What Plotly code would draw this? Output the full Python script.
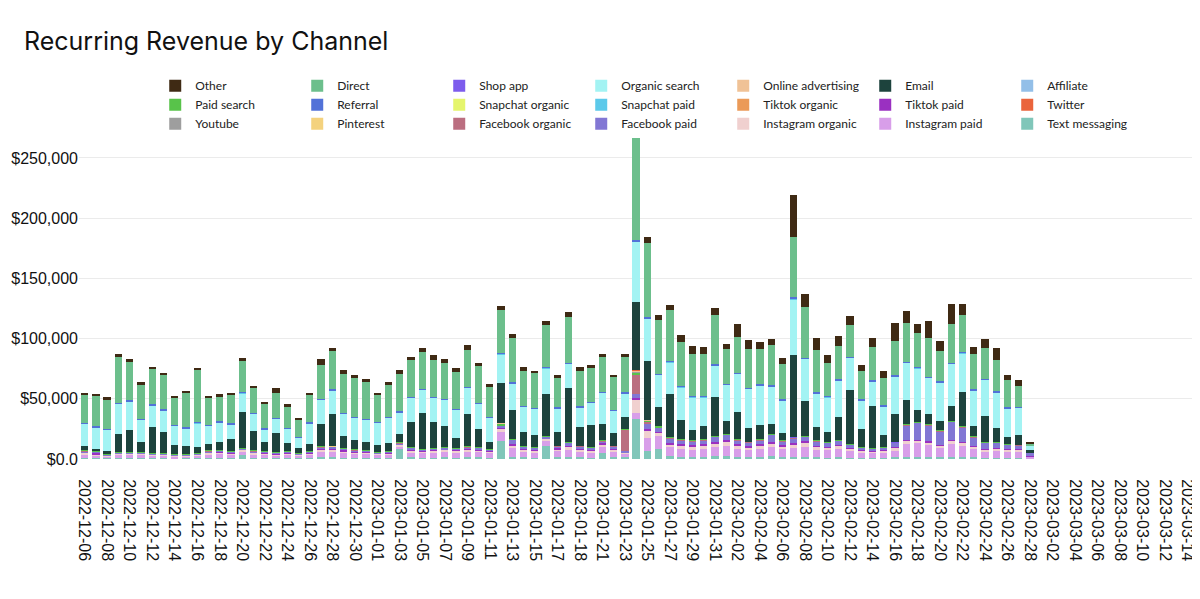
import pandas as pd
import plotly.graph_objects as go

# ---------------- data (values in $ thousands) ----------------
days = [d.strftime("%Y-%m-%d") for d in pd.date_range("2022-12-06", "2023-03-15", freq="D")]

tick_labels = [
    "2022-12-06", "2022-12-08", "2022-12-10", "2022-12-12", "2022-12-14", "2022-12-16",
    "2022-12-18", "2022-12-20", "2022-12-22", "2022-12-24", "2022-12-26", "2022-12-28",
    "2022-12-30", "2023-01-01", "2023-01-03", "2023-01-05", "2023-01-07", "2023-01-09",
    "2023-01-11", "2023-01-13", "2023-01-15", "2023-01-17", "2023-01-18", "2023-01-21",
    "2023-01-23", "2023-01-25", "2023-01-27", "2023-01-29", "2023-01-31", "2023-02-02",
    "2023-02-04", "2023-02-06", "2023-02-08", "2023-02-10", "2023-02-12", "2023-02-14",
    "2023-02-16", "2023-02-18", "2023-02-20", "2023-02-22", "2023-02-24", "2023-02-26",
    "2023-02-28", "2023-03-02", "2023-03-04", "2023-03-06", "2023-03-08", "2023-03-10",
    "2023-03-12", "2023-03-14",
]

other = [2.3, 1.9, 2.0, 2.2, 2.3, 2.2, 1.9, 2.2, 1.7, 1.7, 2.0, 1.6, 1.7, 2.0, 2.7, 1.9, 1.7, 3.8, 2.3, 1.4,
         2.2, 5.5, 2.5, 3.9, 2.8, 2.8, 1.7, 2.7, 2.8, 2.8, 3.3, 3.6, 2.8, 3.4, 4.1, 2.8, 2.2, 3.1, 3.3, 3.3,
         2.2, 3.6, 2.5, 4.2, 3.6, 2.5, 2.8, 2.0, 2.8, 0.0, 4.6, 4.2, 4.1, 6.1, 6.3, 5.2, 5.0, 3.6, 11.1, 7.5,
         5.5, 5.0, 5.5, 34.7, 10.5, 10.6, 6.1, 8.3, 6.9, 5.0, 7.5, 5.6, 14.9, 9.7, 7.5, 13.5, 8.0, 17.2, 9.1, 6.1,
         7.0, 9.7, 4.2, 5.0, 0.3]
direct = [22.7, 25.0, 24.4, 38.0, 31.6, 28.3, 29.2, 28.3, 21.9, 28.3, 42.9, 22.5, 20.5, 23.5, 25.8, 20.3, 19.9, 20.8, 17.1, 14.1,
          22.4, 27.8, 31.9, 31.9, 32.1, 30.2, 22.5, 26.1, 31.0, 30.3, 30.5, 30.9, 30.0, 30.5, 30.8, 30.5, 24.7, 35.8, 36.9, 28.6,
          28.8, 34.7, 24.4, 37.9, 28.9, 28.3, 28.9, 26.8, 29.1, 85.1, 61.4, 44.9, 42.2, 36.5, 35.2, 35.2, 41.3, 29.1, 29.7, 32.4,
          29.6, 33.0, 29.1, 49.7, 42.1, 34.6, 27.7, 27.5, 26.7, 23.3, 27.5, 23.0, 28.6, 32.1, 28.5, 32.5, 25.0, 31.8, 30.5, 29.1,
          25.7, 26.1, 22.2, 16.9, 2.0]
referral = [0.8, 0.8, 0.8, 0.8, 0.8, 0.8, 0.8, 0.8, 0.8, 0.8, 0.8, 0.8, 0.8, 0.8, 0.8, 0.8, 0.8, 0.8, 0.8, 0.8,
            0.8, 0.8, 0.8, 0.8, 0.8, 0.8, 0.8, 0.8, 0.8, 0.8, 0.8, 0.8, 0.8, 0.8, 0.8, 0.8, 0.8, 0.8, 0.8, 0.8,
            0.8, 0.8, 0.8, 0.8, 0.8, 0.8, 0.8, 0.8, 0.8, 1.5, 1.5, 0.8, 0.8, 0.8, 0.8, 0.8, 0.8, 0.8, 0.8, 0.8,
            0.8, 0.8, 0.8, 1.5, 0.8, 0.8, 0.8, 0.8, 0.8, 0.8, 0.8, 0.8, 0.8, 0.8, 0.8, 0.8, 0.8, 0.8, 0.8, 0.8,
            0.8, 0.8, 0.8, 0.8, 0.2]
organic_search = [18.8, 18.0, 17.7, 25.4, 23.8, 18.5, 18.0, 17.5, 15.8, 15.2, 20.0, 15.2, 16.6, 12.5, 15.8, 14.4, 10.8, 11.9, 11.7, 8.3,
                  17.2, 19.9, 19.4, 18.0, 18.8, 18.8, 18.5, 20.8, 18.0, 20.1, 19.1, 20.1, 22.1, 23.2, 21.6, 20.7, 20.2, 24.3, 22.7, 21.3,
                  21.6, 21.3, 19.9, 20.0, 16.6, 18.2, 26.0, 18.8, 19.9, 49.9, 34.9, 26.9, 26.3, 26.9, 27.7, 24.4, 25.8, 30.2, 31.8, 32.7,
                  32.7, 31.6, 27.1, 46.2, 35.2, 28.3, 28.6, 30.4, 27.1, 23.5, 20.2, 23.5, 31.0, 31.3, 34.7, 29.9, 32.4, 34.7, 32.4, 29.9,
                  29.7, 29.9, 24.1, 22.4, 3.8]
email = [3.3, 1.9, 2.2, 14.7, 18.5, 8.3, 21.6, 18.0, 7.7, 6.1, 5.0, 5.5, 6.4, 9.7, 29.6, 16.0, 7.5, 15.8, 6.9, 4.5,
         6.1, 18.8, 26.8, 10.5, 7.5, 6.4, 5.8, 6.9, 6.9, 20.8, 30.0, 21.6, 17.2, 8.6, 27.1, 15.3, 5.6, 33.3, 23.5, 11.6,
         10.3, 34.6, 11.1, 45.1, 15.2, 18.6, 13.5, 10.3, 9.7, 56.8, 49.0, 16.0, 36.0, 16.6, 8.3, 10.8, 32.4, 10.5, 22.7, 11.1,
         12.2, 8.0, 6.1, 67.9, 28.5, 11.0, 8.8, 18.9, 44.3, 15.3, 35.4, 10.3, 23.5, 19.9, 10.2, 8.8, 7.7, 13.0, 28.5, 8.3,
         22.1, 11.6, 5.5, 8.1, 1.4]
paid_search = [0.3, 0.3, 0.3, 0.3, 0.3, 0.3, 0.3, 0.3, 0.3, 0.3, 0.3, 0.3, 0.3, 0.3, 0.3, 0.3, 0.3, 0.3, 0.3, 0.3,
               0.3, 0.3, 0.3, 0.3, 0.3, 0.3, 0.3, 0.3, 0.6, 0.3, 0.3, 0.3, 0.3, 0.3, 0.3, 0.3, 0.3, 1.5, 0.3, 0.3,
               0.3, 0.5, 0.3, 0.3, 0.3, 0.3, 0.3, 0.3, 0.3, 2.0, 1.2, 1.0, 0.5, 0.3, 0.3, 0.3, 0.5, 0.5, 0.3, 0.3,
               0.3, 0.5, 0.3, 0.5, 0.5, 0.3, 0.3, 0.3, 0.3, 0.3, 0.3, 0.3, 0.3, 0.3, 0.3, 0.3, 0.3, 0.3, 0.3, 0.3,
               0.3, 0.3, 0.3, 0.3, 0.7]
facebook_organic = [0.2, 0.2, 0.2, 0.2, 0.2, 0.2, 0.2, 0.2, 0.2, 0.2, 0.2, 0.2, 0.2, 0.2, 0.2, 0.2, 0.2, 0.2, 0.2, 0.2,
                    0.2, 0.2, 0.2, 0.2, 0.2, 0.2, 0.2, 0.2, 0.2, 0.2, 0.2, 0.2, 0.2, 0.2, 0.2, 0.2, 0.2, 0.2, 0.2, 0.2,
                    0.2, 0.2, 0.2, 0.2, 0.2, 0.2, 0.2, 0.2, 18.0, 16.0, 1.0, 0.2, 0.2, 0.2, 0.2, 0.2, 0.2, 0.2, 0.2, 0.2,
                    0.2, 0.2, 0.2, 0.2, 0.2, 0.2, 0.2, 0.2, 0.2, 0.2, 0.2, 0.2, 0.2, 0.2, 0.2, 0.2, 0.2, 0.2, 0.2, 0.2,
                    0.2, 0.2, 0.2, 0.2, 0.0]
facebook_paid = [1.0, 0.5, 0.5, 0.6, 0.6, 0.6, 0.5, 0.5, 0.5, 0.5, 0.6, 0.8, 0.8, 0.8, 0.8, 0.8, 0.8, 0.7, 0.8, 0.6,
                 0.8, 1.2, 1.2, 1.0, 0.8, 0.8, 0.6, 0.8, 0.8, 1.2, 1.0, 1.0, 1.2, 1.0, 1.2, 1.2, 1.0, 1.5, 3.5, 2.0,
                 2.0, 1.5, 1.8, 2.5, 2.0, 1.8, 1.5, 2.0, 1.0, 3.5, 4.5, 3.0, 4.0, 3.5, 3.5, 3.5, 4.5, 4.5, 3.5, 3.0,
                 3.5, 6.0, 3.5, 4.0, 4.0, 4.0, 3.5, 4.0, 3.0, 2.0, 1.8, 2.0, 3.5, 12.5, 14.0, 13.5, 11.5, 15.0, 12.5, 7.5,
                 5.0, 4.5, 3.5, 3.5, 2.5]
tiktok_paid = [0.5, 2.0, 0.5, 0.3, 0.3, 0.4, 0.3, 0.3, 0.3, 0.3, 0.3, 0.5, 0.5, 0.5, 0.5, 0.5, 0.5, 0.4, 0.4, 0.3,
               0.4, 0.8, 1.5, 1.0, 0.8, 0.6, 0.4, 0.5, 0.5, 0.8, 0.6, 0.6, 0.6, 0.6, 0.8, 0.7, 0.6, 0.8, 1.5, 0.6,
               0.6, 0.5, 0.6, 1.0, 0.8, 0.8, 1.0, 0.7, 0.5, 1.0, 1.5, 0.8, 1.0, 1.0, 1.2, 1.0, 1.2, 1.5, 1.0, 1.5,
               1.0, 1.5, 1.0, 1.0, 1.0, 0.8, 0.6, 0.6, 0.6, 0.5, 0.5, 0.5, 0.5, 0.6, 0.6, 0.6, 0.5, 0.6, 0.6, 0.6,
               0.5, 0.5, 0.5, 0.5, 0.2]
instagram_organic = [1.0, 0.8, 0.6, 0.8, 0.8, 0.8, 0.7, 0.7, 0.7, 0.6, 0.7, 1.2, 1.2, 1.0, 1.2, 1.2, 1.0, 0.8, 1.0, 0.8,
                     1.0, 1.5, 1.5, 1.2, 1.0, 1.0, 0.8, 1.0, 1.2, 1.5, 1.2, 1.5, 1.5, 1.5, 1.5, 1.5, 1.3, 3.0, 2.5, 1.8,
                     1.5, 1.5, 1.8, 2.5, 2.0, 1.5, 2.5, 2.0, 1.0, 11.0, 6.0, 2.5, 2.5, 2.5, 2.5, 2.5, 3.0, 3.0, 2.5, 2.0,
                     2.5, 3.0, 2.5, 3.0, 3.5, 2.5, 2.0, 2.5, 2.0, 1.5, 1.2, 1.5, 2.5, 2.5, 2.5, 2.5, 2.0, 2.5, 2.5, 2.0,
                     1.5, 1.5, 1.5, 1.2, 0.5]
instagram_paid = [3.3, 2.2, 1.7, 2.9, 3.0, 2.8, 2.3, 2.3, 1.9, 1.9, 2.2, 3.1, 3.4, 2.9, 2.8, 3.1, 2.9, 2.7, 3.0, 2.1,
                  3.0, 4.4, 4.5, 4.1, 3.8, 3.7, 2.8, 2.9, 2.7, 4.3, 4.1, 4.2, 4.5, 4.2, 4.4, 4.4, 3.8, 7.2, 6.8, 4.3,
                  4.0, 4.3, 4.5, 6.0, 4.4, 4.0, 4.9, 4.5, 2.8, 5.6, 10.8, 11.0, 7.4, 6.7, 6.2, 6.7, 7.6, 8.7, 6.7, 6.0,
                  6.7, 7.2, 6.4, 7.4, 8.3, 6.1, 6.2, 6.8, 5.3, 4.3, 4.0, 4.3, 5.5, 10.6, 11.0, 9.6, 7.7, 10.8, 8.9, 6.6,
                  5.3, 5.8, 5.6, 5.3, 1.5]
text_messaging = [0.8, 0.5, 0.5, 0.6, 0.5, 0.6, 0.5, 0.5, 0.4, 0.5, 0.5, 1.0, 1.2, 0.8, 3.5, 1.0, 0.8, 0.6, 0.8, 0.5,
                  0.8, 2.0, 1.5, 1.2, 1.0, 1.0, 0.6, 0.8, 8.0, 1.5, 1.0, 1.2, 1.5, 1.2, 2.0, 1.5, 1.2, 15.0, 2.0, 1.5,
                  1.2, 11.0, 2.0, 1.5, 1.5, 1.2, 5.0, 1.5, 1.5, 33.0, 7.0, 8.5, 2.5, 2.0, 1.5, 2.0, 2.5, 2.5, 2.0, 1.5,
                  2.0, 2.5, 1.5, 2.0, 2.0, 1.5, 1.2, 1.5, 1.2, 1.0, 1.0, 1.0, 1.5, 2.0, 2.0, 2.0, 1.5, 2.0, 2.0, 1.5,
                  1.2, 1.2, 1.0, 1.0, 0.3]
# channels that barely register on the chart
youtube = [0, 0, 0, 0, 0, 0, 0, 0, 0, 0, 0, 0, 0, 0, 0.1, 0, 0, 0, 0, 0, 0, 0, 0, 0, 0, 0, 0, 0, 0, 0,
           0, 0, 0, 0, 0, 0, 0, 0.1, 0, 0, 0, 0, 0, 0, 0, 0, 0, 0, 0, 0.2, 0.1, 0, 0, 0, 0, 0, 0, 0, 0, 0,
           0, 0, 0, 0.1, 0, 0, 0, 0, 0, 0, 0, 0, 0, 0, 0, 0, 0, 0, 0, 0, 0, 0, 0, 0, 0]
pinterest = [0, 0, 0, 0, 0, 0, 0, 0, 0, 0, 0, 0, 0, 0, 0, 0, 0, 0, 0, 0, 0, 0, 0.1, 0, 0, 0, 0, 0, 0, 0,
             0, 0, 0, 0, 0, 0, 0, 0, 0, 0, 0, 0, 0, 0, 0, 0, 0, 0, 0, 0.2, 0, 0, 0, 0, 0, 0, 0, 0, 0, 0,
             0, 0, 0, 0, 0, 0, 0, 0, 0, 0, 0, 0, 0, 0, 0, 0, 0, 0, 0, 0, 0, 0, 0, 0, 0]
shop_app = [0, 0, 0, 0, 0, 0, 0, 0, 0, 0, 0, 0, 0, 0, 0, 0, 0, 0, 0, 0, 0, 0, 0, 0, 0, 0, 0, 0, 0, 0,
            0, 0, 0, 0, 0, 0, 0, 0.1, 0, 0, 0, 0, 0, 0, 0, 0, 0, 0, 0, 0.3, 0.1, 0, 0, 0, 0, 0, 0, 0, 0, 0,
            0, 0, 0, 0.2, 0, 0, 0, 0, 0, 0, 0, 0, 0.1, 0, 0, 0, 0, 0, 0, 0, 0, 0, 0, 0, 0]
snapchat_organic = [0, 0, 0, 0, 0, 0, 0, 0, 0, 0, 0, 0, 0, 0, 0, 0, 0, 0, 0, 0, 0, 0, 0, 0, 0, 0, 0, 0, 0, 0,
                    0, 0, 0, 0, 0, 0, 0, 0, 0, 0, 0, 0, 0, 0, 0, 0, 0, 0, 0, 0.1, 0, 0, 0, 0, 0, 0, 0, 0, 0, 0,
                    0, 0, 0, 0, 0, 0, 0, 0, 0, 0, 0, 0, 0, 0, 0, 0, 0, 0, 0, 0, 0, 0, 0, 0, 0]
snapchat_paid = [0.1, 0, 0, 0.1, 0.1, 0, 0.1, 0.1, 0, 0, 0.1, 0, 0, 0, 0.1, 0.1, 0, 0.1, 0, 0, 0, 0.1, 0.1, 0, 0, 0, 0, 0, 0.1, 0.1,
                 0.1, 0.1, 0.1, 0, 0.1, 0.1, 0, 0.2, 0.1, 0, 0, 0.2, 0, 0.2, 0.1, 0.1, 0.1, 0, 0.1, 0.4, 0.3, 0.1, 0.2, 0.1, 0.1, 0.1, 0.2, 0.1, 0.1, 0.1,
                 0.1, 0.1, 0.1, 0.4, 0.2, 0.1, 0.1, 0.1, 0.2, 0.1, 0.1, 0.1, 0.1, 0.2, 0.1, 0.1, 0.1, 0.1, 0.2, 0.1, 0.1, 0.1, 0.1, 0.1, 0]
online_advertising = [0, 0, 0, 0, 0, 0, 0, 0, 0, 0, 0, 0, 0, 0, 0, 0, 0, 0, 0, 0, 0, 0, 0, 0, 0, 0, 0, 0, 0, 0,
                      0, 0, 0, 0, 0, 0, 0, 0.1, 0, 0, 0, 0, 0, 0, 0, 0, 0, 0, 0, 0.3, 0.2, 0, 0, 0, 0, 0, 0, 0, 0, 0,
                      0, 0, 0, 0.1, 0, 0, 0, 0, 0, 0, 0, 0, 0, 0, 0, 0, 0, 0, 0, 0, 0, 0, 0, 0, 0]
tiktok_organic = [0, 0, 0, 0, 0, 0, 0, 0, 0, 0, 0, 0, 0, 0, 0, 0, 0, 0, 0, 0, 0, 0, 0, 0, 0, 0, 0, 0, 0, 0,
                  0, 0, 0, 0, 0, 0, 0, 0, 0, 0, 0, 0, 0, 0, 0, 0, 0, 0, 0, 0.2, 0.1, 0, 0, 0, 0, 0, 0, 0, 0, 0,
                  0, 0, 0, 0, 0, 0, 0, 0, 0, 0, 0, 0, 0, 0, 0, 0, 0, 0, 0, 0, 0, 0, 0, 0, 0]
affiliate = [0, 0, 0, 0, 0, 0, 0, 0, 0, 0, 0, 0, 0, 0, 0, 0, 0, 0, 0, 0, 0, 0, 0, 0, 0, 0, 0, 0, 0, 0,
             0, 0, 0, 0, 0, 0, 0, 0, 0, 0, 0, 0, 0, 0, 0, 0, 0, 0, 0, 0.1, 0, 0, 0, 0, 0, 0, 0, 0, 0, 0,
             0, 0, 0, 0.1, 0, 0, 0, 0, 0, 0, 0, 0, 0, 0, 0, 0, 0, 0, 0, 0, 0, 0, 0, 0, 0]
twitter = [0, 0, 0, 0, 0, 0, 0, 0, 0, 0, 0, 0, 0, 0, 0, 0, 0, 0, 0, 0, 0, 0, 0, 0, 0, 0, 0, 0, 0, 0,
           0, 0, 0, 0, 0, 0, 0, 0, 0, 0, 0, 0, 0, 0, 0, 0, 0, 0, 0, 0.1, 0, 0, 0, 0, 0, 0, 0, 0, 0, 0,
           0, 0, 0, 0, 0, 0, 0, 0, 0, 0, 0, 0, 0, 0, 0, 0, 0, 0, 0, 0, 0, 0, 0, 0, 0]

# (name, values, colour, legend position in the 7-column grid, row-major)
series = [  # stacking order: bottom -> top
    ("Text messaging", text_messaging, "#80c6b9", 21),
    ("Instagram paid", instagram_paid, "#d89ee9", 20),
    ("Instagram organic", instagram_organic, "#f0d0cf", 19),
    ("Tiktok paid", tiktok_paid, "#9a30c1", 13),
    ("Facebook paid", facebook_paid, "#8277d4", 18),
    ("Facebook organic", facebook_organic, "#bb6e80", 17),
    ("Paid search", paid_search, "#58c34a", 8),
    ("Youtube", youtube, "#9e9e9e", 15),
    ("Pinterest", pinterest, "#f4d27e", 16),
    ("Shop app", shop_app, "#7d5ced", 3),
    ("Snapchat organic", snapchat_organic, "#e5f56c", 10),
    ("Online advertising", online_advertising, "#f0c296", 5),
    ("Tiktok organic", tiktok_organic, "#eb9a58", 12),
    ("Affiliate", affiliate, "#93bfe8", 7),
    ("Twitter", twitter, "#ea643c", 14),
    ("Email", email, "#1d433d", 6),
    ("Organic search", organic_search, "#a3f3f3", 4),
    ("Snapchat paid", snapchat_paid, "#5cc9ea", 11),
    ("Referral", referral, "#5272d8", 9),
    ("Direct", direct, "#6cbf8c", 2),
    ("Other", other, "#3f2a14", 1),
]

fig = go.Figure()
for name, vals, color, rank in series:
    yv = [v * 1000 for v in vals] + [None] * (len(days) - len(vals))
    fig.add_trace(go.Bar(x=days, y=yv, name=name, marker=dict(color=color, line=dict(width=0)),
                         legendrank=rank))

y_ticks = [0, 50000, 100000, 150000, 200000, 250000]
y_ticktext = ["$0.0", "$50,000", "$100,000", "$150,000", "$200,000", "$250,000"]

# the page body adds an 8px margin, so the figure is 8px smaller than the window
fig.update_layout(
    width=1192, height=591,
    margin=dict(l=71, r=0, t=130, b=140, autoexpand=False),
    paper_bgcolor="white", plot_bgcolor="white",
    barmode="stack", bargap=0.35,
    title=dict(text="Recurring Revenue by Channel", x=0.0134, xref="container", xanchor="left",
               y=0.958, yref="container", yanchor="top",
               font=dict(family="Inter", size=25, color="#111111")),
    showlegend=True,
    legend=dict(orientation="h", x=0.068, xanchor="left", y=1.208, yanchor="top",
                traceorder="normal", entrywidth=97, entrywidthmode="pixels",
                font=dict(family="Lato", size=12, color="#222222"),
                bgcolor="rgba(0,0,0,0)", itemclick=False),
    xaxis=dict(type="category", categoryorder="array", categoryarray=days, automargin=False,
               range=[-0.5, 99.1], tickmode="array", tickvals=days[::2], ticktext=tick_labels,
               tickangle=90, ticks="outside", ticklen=16, tickcolor="rgba(0,0,0,0)",
               tickfont=dict(family="Liberation Sans, Arial", size=16, color="#111111"),
               showgrid=False, showline=False, zeroline=False),
    yaxis=dict(range=[0, 266600], tickmode="array", tickvals=y_ticks, ticktext=y_ticktext,
               automargin=False,
               tickfont=dict(family="Liberation Sans, Arial", size=16, color="#111111"),
               showgrid=True, gridcolor="#ebebeb", gridwidth=1, zeroline=False, showline=False,
               ticks="", ticklabelstandoff=0),
)

fig.write_html("out.html")
